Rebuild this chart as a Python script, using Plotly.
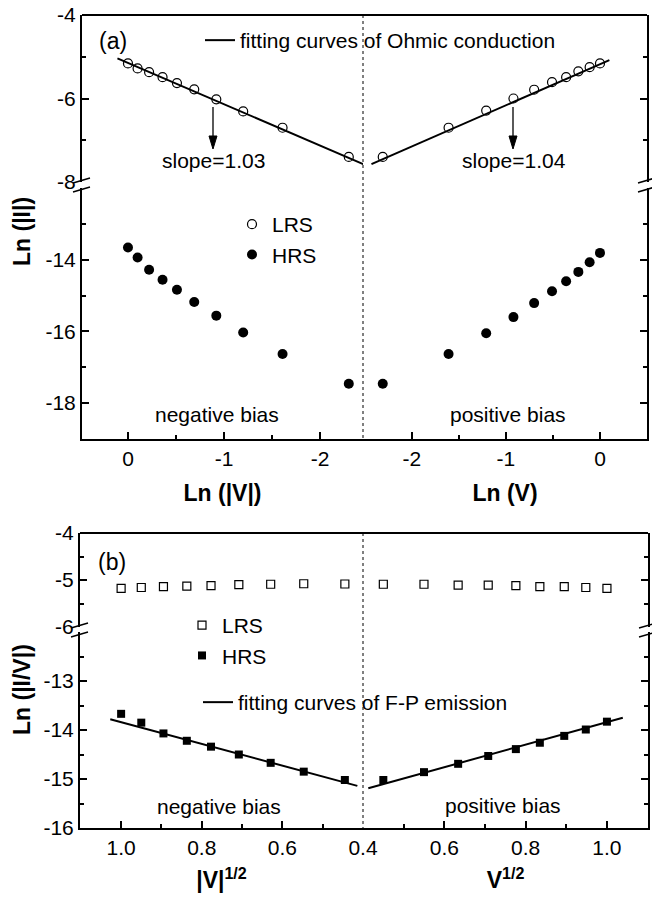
import plotly.graph_objects as go

W, H = 652, 899
FONT = "Arial, 'Liberation Sans', sans-serif"

# ---------------- data: panel (a) ----------------
lnV_neg = [0.0, -0.10, -0.22, -0.36, -0.51, -0.69, -0.92, -1.20, -1.61, -2.30]
lrs_a_neg = [-5.16, -5.28, -5.37, -5.49, -5.63, -5.78, -6.02, -6.31, -6.70, -7.40]
hrs_a_neg = [-13.66, -13.94, -14.28, -14.56, -14.84, -15.18, -15.56, -16.03, -16.63, -17.46]
lnV_pos = [0.0, -0.11, -0.23, -0.36, -0.51, -0.70, -0.92, -1.21, -1.61, -2.31]
lrs_a_pos = [-5.16, -5.25, -5.35, -5.49, -5.61, -5.79, -6.00, -6.29, -6.70, -7.40]
hrs_a_pos = [-13.81, -14.07, -14.34, -14.60, -14.88, -15.21, -15.60, -16.05, -16.63, -17.46]
fit_a_neg_x = [0.11, -2.45]
fit_a_neg_y = [-5.04, -7.57]
fit_a_pos_x = [-2.43, 0.10]
fit_a_pos_y = [-7.57, -5.08]

# ---------------- data: panel (b) ----------------
sqrtV_neg = [1.00, 0.95, 0.895, 0.837, 0.777, 0.708, 0.629, 0.547, 0.445]
lrs_b_neg = [-5.18, -5.16, -5.14, -5.13, -5.12, -5.10, -5.09, -5.08, -5.085]
hrs_b_neg = [-13.67, -13.85, -14.07, -14.22, -14.34, -14.50, -14.67, -14.85, -15.02]
sqrtV_pos = [0.45, 0.55, 0.634, 0.708, 0.776, 0.835, 0.895, 0.948, 1.00]
lrs_b_pos = [-5.09, -5.09, -5.11, -5.11, -5.12, -5.14, -5.14, -5.16, -5.18]
hrs_b_pos = [-15.02, -14.86, -14.69, -14.53, -14.39, -14.26, -14.12, -13.99, -13.83]
fit_b_neg_x = [1.027, 0.414]
fit_b_neg_y = [-13.78, -15.14]
fit_b_pos_x = [0.413, 1.039]
fit_b_pos_y = [-15.19, -13.75]

# tick values and labels
a_xticks_left = [0, -1, -2]
a_xticks_right = [-2, -1, 0]
a_yticks_up = [-4, -6, -8]
a_yticks_low = [-14, -16, -18]
b_xticks_left = [1.0, 0.8, 0.6]
b_xticks_right = [0.4, 0.6, 0.8, 1.0]
b_yticks_up = [-4, -5, -6]
b_yticks_low = [-13, -14, -15, -16]


def fmt_int(vals):
    return ["%d" % v for v in vals]


def fmt_1(vals):
    return ["%.1f" % v for v in vals]


def px(x):
    return x / W


def py(y):
    return 1 - y / H


fig = go.Figure()

open_circle = dict(symbol="circle-open", size=9, color="black", line=dict(width=1.2, color="black"))
dot = dict(symbol="circle", size=10, color="black")
open_sq = dict(symbol="square-open", size=8, color="black", line=dict(width=1.2, color="black"))
sq = dict(symbol="square", size=8, color="black")
fitline = dict(color="black", width=2)

# panel (a)
fig.add_trace(go.Scatter(x=lnV_neg, y=lrs_a_neg, mode="markers", marker=open_circle, name="LRS",
                         xaxis="x", yaxis="y", legend="legend", legendgroup="aL"))
fig.add_trace(go.Scatter(x=lnV_neg, y=hrs_a_neg, mode="markers", marker=dot, name="HRS",
                         xaxis="x", yaxis="y2", legend="legend", legendgroup="aH"))
fig.add_trace(go.Scatter(x=fit_a_neg_x, y=fit_a_neg_y, mode="lines", line=fitline,
                         name="fitting curves of Ohmic conduction",
                         xaxis="x", yaxis="y", legend="legend2", legendgroup="aF"))
fig.add_trace(go.Scatter(x=lnV_pos, y=lrs_a_pos, mode="markers", marker=open_circle, name="LRS",
                         xaxis="x2", yaxis="y3", showlegend=False, legendgroup="aL"))
fig.add_trace(go.Scatter(x=lnV_pos, y=hrs_a_pos, mode="markers", marker=dot, name="HRS",
                         xaxis="x2", yaxis="y4", showlegend=False, legendgroup="aH"))
fig.add_trace(go.Scatter(x=fit_a_pos_x, y=fit_a_pos_y, mode="lines", line=fitline,
                         name="fitting curves of Ohmic conduction",
                         xaxis="x2", yaxis="y3", showlegend=False, legendgroup="aF"))

# panel (b)
fig.add_trace(go.Scatter(x=sqrtV_neg, y=lrs_b_neg, mode="markers", marker=open_sq, name="LRS",
                         xaxis="x3", yaxis="y5", legend="legend3", legendgroup="bL"))
fig.add_trace(go.Scatter(x=sqrtV_neg, y=hrs_b_neg, mode="markers", marker=sq, name="HRS",
                         xaxis="x3", yaxis="y6", legend="legend3", legendgroup="bH"))
fig.add_trace(go.Scatter(x=fit_b_neg_x, y=fit_b_neg_y, mode="lines", line=fitline,
                         name="fitting curves of F-P emission",
                         xaxis="x3", yaxis="y6", legend="legend4", legendgroup="bF"))
fig.add_trace(go.Scatter(x=sqrtV_pos, y=lrs_b_pos, mode="markers", marker=open_sq, name="LRS",
                         xaxis="x4", yaxis="y7", showlegend=False, legendgroup="bL"))
fig.add_trace(go.Scatter(x=sqrtV_pos, y=hrs_b_pos, mode="markers", marker=sq, name="HRS",
                         xaxis="x4", yaxis="y8", showlegend=False, legendgroup="bH"))
fig.add_trace(go.Scatter(x=fit_b_pos_x, y=fit_b_pos_y, mode="lines", line=fitline,
                         name="fitting curves of F-P emission",
                         xaxis="x4", yaxis="y8", showlegend=False, legendgroup="bF"))

tickfont = dict(family=FONT, size=21, color="black")
titlefont = dict(family=FONT, size=23, color="black")


def xax(domain, rng, anchor, tickvals, ticktext, minor, title, standoff):
    return dict(domain=[px(domain[0]), px(domain[1])], range=rng, anchor=anchor, automargin=False,
                tickmode="array", tickvals=tickvals, ticktext=ticktext,
                ticks="inside", ticklen=7, tickwidth=1.5,
                tickcolor="black", showline=True, linewidth=2, linecolor="black",
                showgrid=False, zeroline=False, tickfont=tickfont,
                minor=dict(tickmode="array", tickvals=minor, ticks="inside", ticklen=4,
                           tickwidth=1.5, tickcolor="black", showgrid=False),
                title=dict(text=title, font=titlefont, standoff=standoff))


def yax(domain, rng, anchor, tickvals, minor, side="left", labels=True):
    return dict(domain=[py(domain[1]), py(domain[0])], range=rng, anchor=anchor, side=side,
                automargin=False, tickmode="array", tickvals=tickvals, ticktext=fmt_int(tickvals),
                ticks="inside", ticklen=7, tickwidth=1.5,
                tickcolor="black", showline=True, linewidth=2, linecolor="black",
                showgrid=False, zeroline=False, tickfont=tickfont, showticklabels=labels,
                minor=dict(tickmode="array", tickvals=minor, ticks="inside", ticklen=4,
                           tickwidth=1.5, tickcolor="black", showgrid=False))


fig.update_layout(
    width=W, height=H, margin=dict(l=0, r=0, t=0, b=0, autoexpand=False),
    paper_bgcolor="white", plot_bgcolor="white",
    font=dict(family=FONT, size=21, color="black"),
    xaxis=xax((82, 363), [0.479, -2.448], "y2", a_xticks_left, fmt_int(a_xticks_left),
              [-0.5, -1.5], "<b>Ln (|V|)</b>", 16),
    xaxis2=xax((363, 647), [-2.52, 0.5], "y4", a_xticks_right, fmt_int(a_xticks_right),
               [-1.5, -0.5], "<b>Ln (V)</b>", 16),
    yaxis=yax((15, 182), [-8, -4], "x", a_yticks_up, [-5, -7]),
    yaxis2=yax((188, 439), [-19, -12], "x", a_yticks_low, [-13, -15, -17]),
    yaxis3=yax((15, 182), [-8, -4], "x2", a_yticks_up, [-5, -7], side="right", labels=False),
    yaxis4=yax((188, 439), [-19, -12], "x2", a_yticks_low, [-13, -15, -17], side="right", labels=False),
    xaxis3=xax((80, 363), [1.102, 0.4], "y6", b_xticks_left, fmt_1(b_xticks_left),
               [0.9, 0.7, 0.5], "<b>|V|<sup>1/2</sup></b>", 14),
    xaxis4=xax((363, 648), [0.4, 1.101], "y8", b_xticks_right, fmt_1(b_xticks_right),
               [0.5, 0.7, 0.9], "<b>V<sup>1/2</sup></b>", 14),
    yaxis5=yax((533, 627), [-6, -4], "x3", b_yticks_up, [-4.5, -5.5]),
    yaxis6=yax((632, 828), [-16, -12], "x3", b_yticks_low, [-12.5, -13.5, -14.5, -15.5]),
    yaxis7=yax((533, 627), [-6, -4], "x4", b_yticks_up, [-4.5, -5.5], side="right", labels=False),
    yaxis8=yax((632, 828), [-16, -12], "x4", b_yticks_low, [-12.5, -13.5, -14.5, -15.5], side="right", labels=False),
    legend=dict(x=px(232), y=py(204), xanchor="left", yanchor="top", bgcolor="rgba(0,0,0,0)",
                font=dict(family=FONT, size=21), tracegroupgap=0),
    legend2=dict(x=px(200), y=py(20), xanchor="left", yanchor="top", bgcolor="rgba(0,0,0,0)",
                 font=dict(family=FONT, size=21)),
    legend3=dict(x=px(182), y=py(605), xanchor="left", yanchor="top", bgcolor="rgba(0,0,0,0)",
                 font=dict(family=FONT, size=21), tracegroupgap=0),
    legend4=dict(x=px(198), y=py(682), xanchor="left", yanchor="top", bgcolor="rgba(0,0,0,0)",
                 font=dict(family=FONT, size=21)),
)

shapes = []


def pline(x0, y0, x1, y1, width=2, dash="solid"):
    shapes.append(dict(type="line", xref="paper", yref="paper", x0=px(x0), y0=py(y0),
                       x1=px(x1), y1=py(y1), line=dict(color="black", width=width, dash=dash)))


# top borders
pline(82, 15, 647, 15)
pline(80, 533, 648, 533)
# dotted separators
pline(363, 15, 363, 439, width=1, dash="dot")
pline(363, 533, 363, 828, width=1, dash="dot")
# axis break marks
for (bx, by) in [(82, 185), (647, 185), (80, 630), (648, 630)]:
    pline(bx - 9, by - 2, bx + 8, by - 7, width=1.5)
    pline(bx - 9, by + 7, bx + 8, by + 2, width=1.5)

ann = []


def ptext(x, y, text, size=21, angle=0):
    ann.append(dict(x=px(x), y=py(y), xref="paper", yref="paper", text=text, showarrow=False,
                    xanchor="center", yanchor="middle", textangle=angle,
                    font=dict(family=FONT, size=size, color="black")))


ptext(113, 41, "(a)", size=23)
ptext(112, 562, "(b)", size=23)
ptext(213, 161, "slope=1.03")
ptext(514, 161, "slope=1.04")
ptext(217, 415, "negative bias")
ptext(508, 415, "positive bias")
ptext(219, 806, "negative bias")
ptext(503, 805, "positive bias")
ptext(22, 232, "<b>Ln (|I|)</b>", size=23, angle=-90)
ptext(22, 690, "<b>Ln (|I/V|)</b>", size=23, angle=-90)
fig.update_layout(annotations=ann)

# arrows drawn as shapes: shaft + head
for ax_x in (213, 513):
    pline(ax_x, 107, ax_x, 140, width=1.3)
    shapes.append(dict(type="path", xref="paper", yref="paper",
                       path="M %f,%f L %f,%f L %f,%f Z" % (px(ax_x - 4), py(136), px(ax_x + 4), py(136),
                                                          px(ax_x), py(149)),
                       fillcolor="black", line=dict(color="black", width=1)))
fig.update_layout(shapes=shapes)

fig.write_html("out.html")
